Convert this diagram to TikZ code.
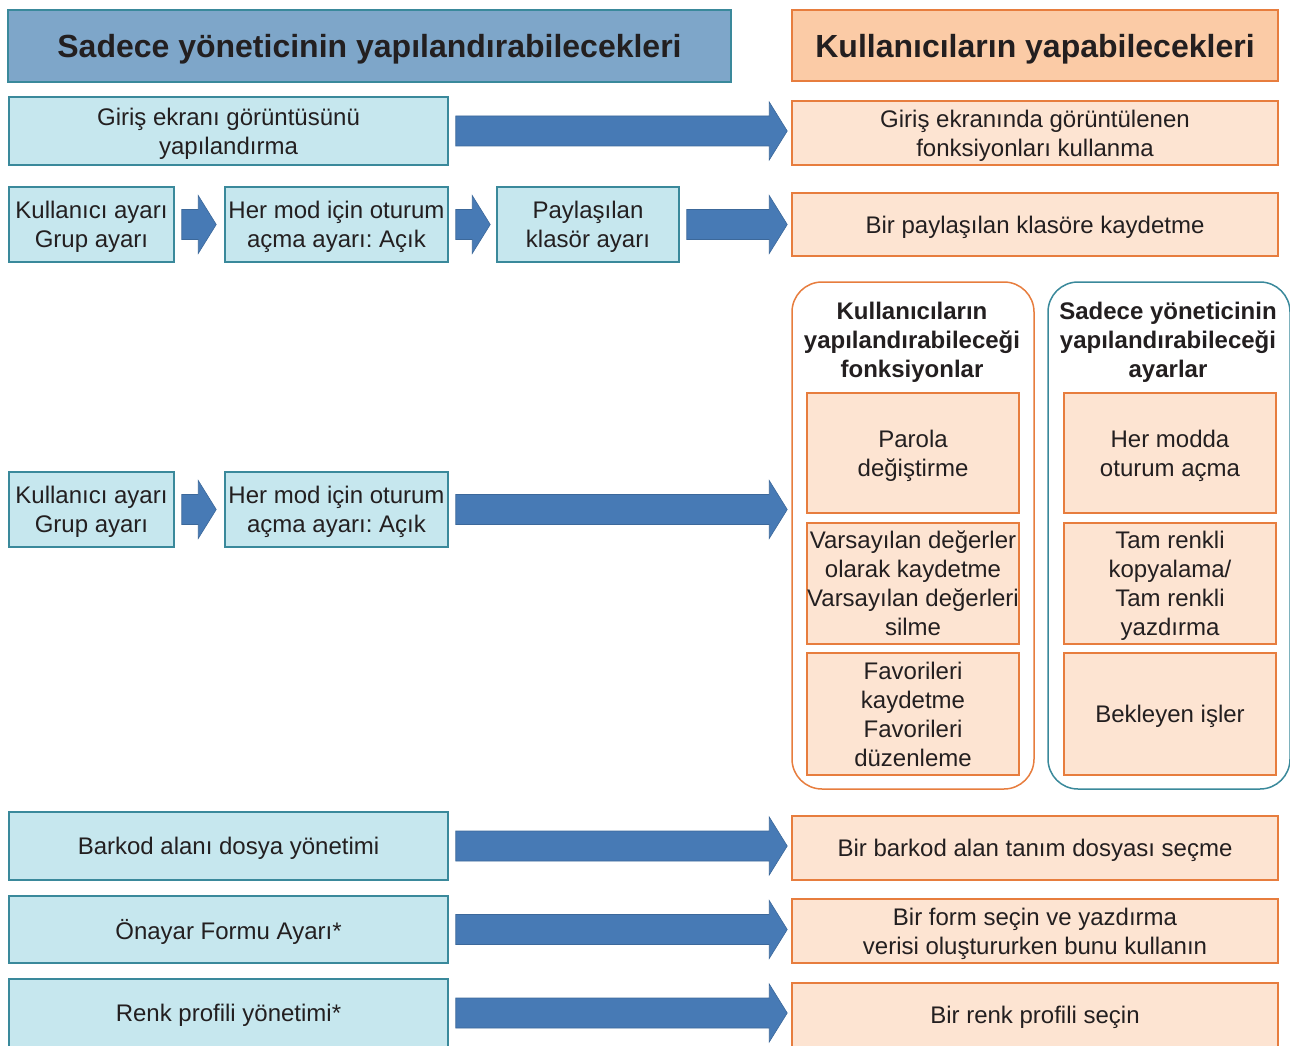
\documentclass[tikz,border=0pt]{standalone}
\usepackage{fontspec}
\setmainfont{Liberation Sans}
\frenchspacing
\usetikzlibrary{calc}
\definecolor{hdrblue}{RGB}{126,166,201}
\definecolor{tealline}{RGB}{58,137,155}
\definecolor{hdrpeach}{RGB}{251,203,166}
\definecolor{orangeline}{RGB}{231,125,62}
\definecolor{cyanfill}{RGB}{198,231,238}
\definecolor{peachfill}{RGB}{253,228,210}
\definecolor{arrowblue}{RGB}{71,122,181}
\definecolor{inkgray}{RGB}{35,31,32}
\tikzset{
  adminbox/.style={draw=tealline, fill=cyanfill, line width=1.5pt, align=center,
    inner sep=0pt, text depth=0pt, text=inkgray, font=\fontsize{24}{29}\selectfont},
  userbox/.style={adminbox, draw=orangeline, fill=peachfill},
  headadmin/.style={adminbox, fill=hdrblue, font=\fontsize{32}{38}\selectfont\bfseries},
  headuser/.style={headadmin, draw=orangeline, fill=hdrpeach},
  userpanel/.style={draw=orangeline, fill=white, line width=1.5pt, rounded corners=30pt},
  adminpanel/.style={userpanel, draw=tealline},
  paneltitle/.style={align=center, inner sep=0pt, text depth=0pt, text=inkgray,
    font=\fontsize{24}{29}\selectfont\bfseries},
  blockarrow/.style={fill=arrowblue, draw=arrowblue!85!black, line width=0.6pt}
}
\newcommand{\flowarrow}[3][4]{%
  \path[blockarrow] let \p1=($(#2.east)+(7,0)$), \p2=($(#3.west)+(-#1,0)$) in
    (\x1,\y1+15pt) -- (\x2-18pt,\y1+15pt) -- (\x2-18pt,\y1+29pt) -- (\x2,\y1)
    -- (\x2-18pt,\y1-29pt) -- (\x2-18pt,\y1-15pt) -- (\x1,\y1-15pt) -- cycle;}

\begin{document}
\begin{tikzpicture}[x=1pt,y=-1pt]
    \useasboundingbox (0,0) rectangle (1290,1046);
    \node[headadmin, minimum width=723, minimum height=72] (hdradmin) at (369.5,46) {Sadece yöneticinin yapılandırabilecekleri};
    \node[headuser, minimum width=486, minimum height=71] (hdruser) at (1035,45.5) {Kullanıcıların yapabilecekleri};

    \node[adminbox, minimum width=439, minimum height=68] (loginscr) at (228.5,131) {Giriş ekranı görüntüsünü\\yapılandırma};
    \node[userbox, minimum width=486, minimum height=64] (loginuse) at (1035,133) {Giriş ekranında görüntülenen\\fonksiyonları kullanma};
    \flowarrow{loginscr}{loginuse}

    \node[adminbox, minimum width=165, minimum height=75] (usrgrpA) at (91.5,224.5) {Kullanıcı ayarı\\Grup ayarı};
    \node[adminbox, minimum width=223, minimum height=75] (modeA) at (336.5,224.5) {Her mod için oturum\\açma ayarı: Açık};
    \node[adminbox, minimum width=182, minimum height=75] (folder) at (588,224.5) {Paylaşılan\\klasör ayarı};
    \node[userbox, minimum width=486, minimum height=63] (folderuse) at (1035,224.5) {Bir paylaşılan klasöre kaydetme};
    \flowarrow[8]{usrgrpA}{modeA}
    \flowarrow[6]{modeA}{folder}
    \flowarrow{folder}{folderuse}

    \node[adminbox, minimum width=165, minimum height=75] (usrgrpB) at (91.5,509.5) {Kullanıcı ayarı\\Grup ayarı};
    \node[adminbox, minimum width=223, minimum height=75] (modeB) at (336.5,509.5) {Her mod için oturum\\açma ayarı: Açık};
    \node[userpanel, minimum width=242, minimum height=507] (paneluser) at (913,535.5) {};
    \node[adminpanel, minimum width=242, minimum height=507] (paneladmin) at (1169,535.5) {};
    \flowarrow[8]{usrgrpB}{modeB}
    \flowarrow{modeB}{paneluser}

    \node[paneltitle] (titleuser) at (912,340) {Kullanıcıların\\yapılandırabileceği\\fonksiyonlar};
    \node[paneltitle] (titleadmin) at (1168,340) {Sadece yöneticinin\\yapılandırabileceği\\ayarlar};
    \node[userbox, minimum width=212, minimum height=120] (password) at (913,453) {Parola\\değiştirme};
    \node[userbox, minimum width=212, minimum height=121] (defaults) at (913,583.5) {Varsayılan değerler\\olarak kaydetme\\Varsayılan değerleri\\silme};
    \node[userbox, minimum width=212, minimum height=122] (favs) at (913,714) {Favorileri\\kaydetme\\Favorileri\\düzenleme};
    \node[userbox, minimum width=212, minimum height=120] (modelogin) at (1170,453) {Her modda\\oturum açma};
    \node[userbox, minimum width=212, minimum height=121] (fullcolor) at (1170,583.5) {Tam renkli\\kopyalama/\\Tam renkli\\yazdırma};
    \node[userbox, minimum width=212, minimum height=122] (held) at (1170,714) {Bekleyen işler};

    \node[adminbox, minimum width=439, minimum height=68] (barcode) at (228.5,846) {Barkod alanı dosya yönetimi};
    \node[userbox, minimum width=486, minimum height=64] (barcodeuse) at (1035,848) {Bir barkod alan tanım dosyası seçme};
    \flowarrow{barcode}{barcodeuse}

    \node[adminbox, minimum width=439, minimum height=67] (form) at (228.5,929.5) {Önayar Formu Ayarı*};
    \node[userbox, minimum width=486, minimum height=64] (formuse) at (1035,931) {Bir form seçin ve yazdırma\\verisi oluştururken bunu kullanın};
    \flowarrow{form}{formuse}

    \node[adminbox, minimum width=439, minimum height=68] (profile) at (228.5,1013) {Renk profili yönetimi*};
    \node[userbox, minimum width=486, minimum height=64] (profileuse) at (1035,1015) {Bir renk profili seçin};
    \flowarrow{profile}{profileuse}
\end{tikzpicture}
\end{document}
